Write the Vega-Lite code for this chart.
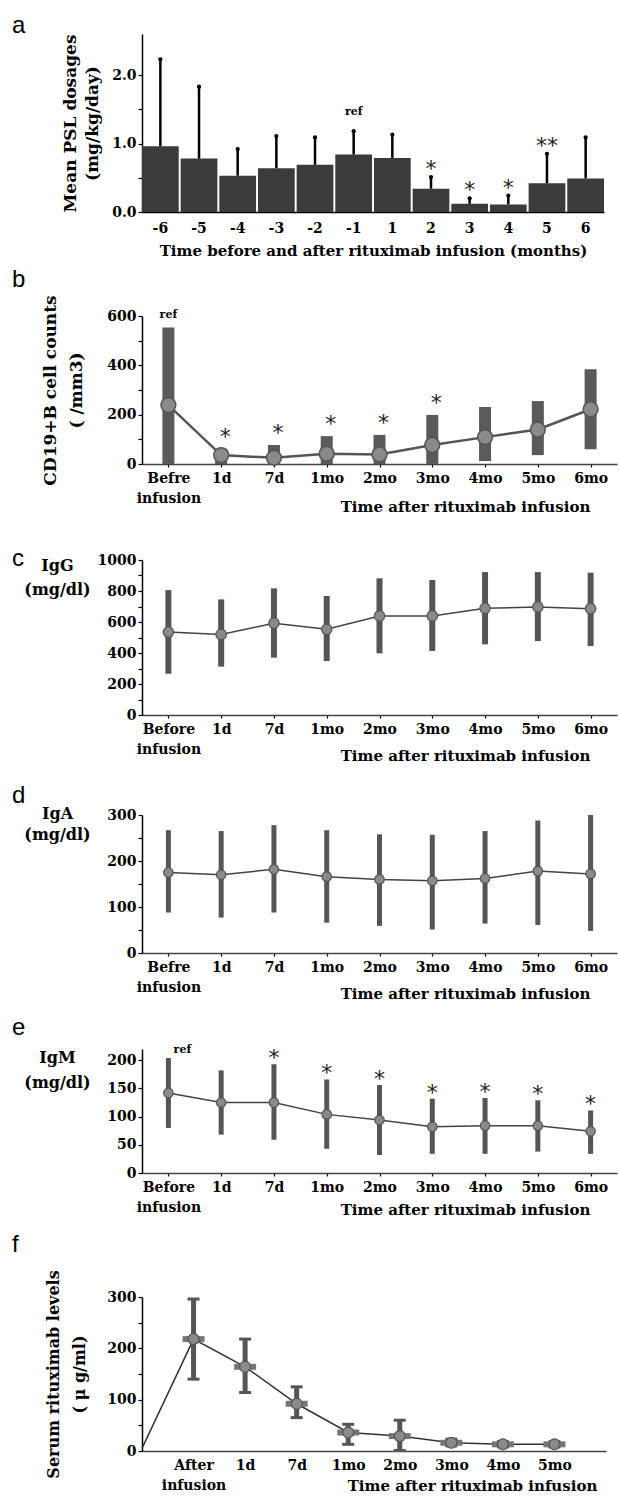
{
  "$schema": "https://vega.github.io/schema/vega-lite/v6.json",
  "padding": {"left": 12, "top": 14, "right": 2, "bottom": 5},
  "background": "white",
  "config": {
    "view": {"stroke": null},
    "axis": {"domainColor": "#000", "domainWidth": 1.5, "tickColor": "#000", "tickWidth": 1.2, "tickSize": 4, "labelFont": "DejaVu Serif", "labelFontWeight": "bold", "labelFontSize": 14, "labelColor": "#000", "labelOverlap": false, "titleFont": "DejaVu Serif", "titleFontWeight": "bold", "titleFontSize": 16, "titleColor": "#000", "grid": false},
    "axisX": {"labelAngle": 0},
    "title": {"font": "Liberation Sans", "fontSize": 24, "fontWeight": "normal", "color": "#000", "anchor": "start", "frame": "group", "offset": 0}
  },
  "spacing": 96,
  "bounds": "flush",
  "vconcat": [
    {
      "width": 462, "height": 178,
      "title": {"text": "a", "dx": -130, "dy": 8},
      "data": {"values": [
        {"month": "-6", "dose": 0.96, "upper": 2.23, "sig": ""},
        {"month": "-5", "dose": 0.78, "upper": 1.83, "sig": ""},
        {"month": "-4", "dose": 0.53, "upper": 0.92, "sig": ""},
        {"month": "-3", "dose": 0.64, "upper": 1.11, "sig": ""},
        {"month": "-2", "dose": 0.69, "upper": 1.09, "sig": ""},
        {"month": "-1", "dose": 0.84, "upper": 1.18, "sig": "ref"},
        {"month": "1", "dose": 0.79, "upper": 1.13, "sig": ""},
        {"month": "2", "dose": 0.34, "upper": 0.51, "sig": "*"},
        {"month": "3", "dose": 0.12, "upper": 0.20, "sig": "*"},
        {"month": "4", "dose": 0.11, "upper": 0.24, "sig": "*"},
        {"month": "5", "dose": 0.42, "upper": 0.85, "sig": "**"},
        {"month": "6", "dose": 0.49, "upper": 1.09, "sig": ""}
      ]},
      "encoding": {
        "x": {"field": "month", "type": "ordinal", "sort": null,
              "scale": {"paddingInner": 0.05, "paddingOuter": 0},
              "axis": {"title": "Time before and after rituximab infusion (months)", "ticks": false, "labelPadding": 9, "titlePadding": 8, "titleFontSize": 15}}
      },
      "layer": [
        {"mark": {"type": "bar", "color": "#3b3b3b"},
         "encoding": {"y": {"field": "dose", "type": "quantitative", "scale": {"domain": [0, 2.5]},
           "axis": {"title": ["Mean PSL dosages", "(mg/kg/day)"], "titleFontSize": 17, "titleLineHeight": 22, "values": [0, 0.5, 1, 1.5, 2], "tickCount": 20, "labelExpr": "datum.value % 1 == 0 ? format(datum.value, '.1f') : ''", "titlePadding": 10}}}},
        {"mark": {"type": "rule", "color": "#000", "strokeWidth": 2.5},
         "encoding": {"y": {"field": "dose", "type": "quantitative"}, "y2": {"field": "upper"}}},
        {"mark": {"type": "point", "filled": true, "color": "#000", "size": 18, "opacity": 1},
         "encoding": {"y": {"field": "upper", "type": "quantitative"}}},
        {"transform": [{"filter": "datum.sig == 'ref'"}],
         "mark": {"type": "text", "font": "DejaVu Serif", "fontWeight": "bold", "fontSize": 11, "dy": -19, "color": "#000"},
         "encoding": {"y": {"field": "upper", "type": "quantitative"}, "text": {"field": "sig"}}},
        {"transform": [{"filter": "indexof(datum.sig, '*') >= 0"}],
         "mark": {"type": "text", "font": "DejaVu Sans", "fontSize": 22, "dy": -8, "color": "#222"},
         "encoding": {"y": {"field": "upper", "type": "quantitative"}, "text": {"field": "sig"}}}
      ]
    },
    {
      "width": 475, "height": 156,
      "title": {"text": "b", "dx": -130, "dy": 1},
      "data": {"values": [
        {"t": "Before", "mean": 239, "lo": 0, "hi": 553, "sig": "ref"},
        {"t": "1d", "mean": 36, "lo": 0, "hi": 62, "sig": "*"},
        {"t": "7d", "mean": 25, "lo": 0, "hi": 77, "sig": "*"},
        {"t": "1mo", "mean": 42, "lo": 0, "hi": 113, "sig": "*"},
        {"t": "2mo", "mean": 39, "lo": 0, "hi": 118, "sig": "*"},
        {"t": "3mo", "mean": 77, "lo": 0, "hi": 199, "sig": "*"},
        {"t": "4mo", "mean": 109, "lo": 12, "hi": 231, "sig": ""},
        {"t": "5mo", "mean": 140, "lo": 36, "hi": 255, "sig": ""},
        {"t": "6mo", "mean": 222, "lo": 60, "hi": 384, "sig": ""}
      ]},
      "encoding": {
        "x": {"field": "t", "type": "ordinal", "sort": null, "scale": {"type": "point", "padding": 0.5},
              "axis": {"title": "Time after rituximab infusion", "titleFontSize": 15, "labelExpr": "datum.value == 'Before' ? ['Befre', 'infusion'] : datum.value", "labelLineHeight": 20, "tickSize": 3, "labelPadding": 4, "domainColor": "#444", "titleX": 323, "titleY": 42, "titleBaseline": "middle", "titleAlign": "center"}}
      },
      "layer": [
        {"mark": {"type": "rule", "color": "#5a5a5a", "strokeWidth": 12},
         "encoding": {"y": {"field": "lo", "type": "quantitative", "scale": {"domain": [0, 600], "range": [156, 8]},
           "axis": {"title": ["CD19+B cell counts", "( /mm3)"], "titleFontSize": 17, "titleLineHeight": 26, "values": [0, 100, 200, 300, 400, 500, 600], "tickCount": 20, "labelExpr": "datum.value % 200 == 0 ? datum.label : ''", "titlePadding": 21}},
           "y2": {"field": "hi"}}},
        {"mark": {"type": "line", "color": "#555", "strokeWidth": 2.5},
         "encoding": {"y": {"field": "mean", "type": "quantitative"}}},
        {"mark": {"type": "point", "filled": true, "size": 220, "color": "#8a8a8a", "stroke": "#555", "strokeWidth": 1.5, "opacity": 1},
         "encoding": {"y": {"field": "mean", "type": "quantitative"}}},
        {"transform": [{"filter": "datum.sig == 'ref'"}],
         "mark": {"type": "text", "font": "DejaVu Serif", "fontWeight": "bold", "fontSize": 11, "dy": -13, "color": "#000"},
         "encoding": {"y": {"field": "hi", "type": "quantitative"}, "text": {"field": "sig"}}},
        {"transform": [{"filter": "indexof(datum.sig, '*') >= 0"}],
         "mark": {"type": "text", "font": "DejaVu Sans", "fontSize": 22, "dy": -12, "dx": 4, "color": "#222"},
         "encoding": {"y": {"field": "hi", "type": "quantitative"}, "text": {"field": "sig"}}}
      ]
    },
    {
      "width": 475, "height": 155,
      "title": {"text": "c", "dx": -130, "dy": 22},
      "data": {"values": [
        {"t": "Before", "mean": 535, "lo": 266, "hi": 806},
        {"t": "1d", "mean": 520, "lo": 312, "hi": 746},
        {"t": "7d", "mean": 592, "lo": 370, "hi": 817},
        {"t": "1mo", "mean": 553, "lo": 348, "hi": 768},
        {"t": "2mo", "mean": 639, "lo": 398, "hi": 882},
        {"t": "3mo", "mean": 639, "lo": 413, "hi": 871},
        {"t": "4mo", "mean": 688, "lo": 456, "hi": 922},
        {"t": "5mo", "mean": 697, "lo": 477, "hi": 922},
        {"t": "6mo", "mean": 686, "lo": 445, "hi": 918}
      ]},
      "encoding": {
        "x": {"field": "t", "type": "ordinal", "sort": null, "scale": {"type": "point", "padding": 0.5},
              "axis": {"title": "Time after rituximab infusion", "titleFontSize": 15, "labelExpr": "datum.value == 'Before' ? ['Before', 'infusion'] : datum.value", "labelLineHeight": 20, "tickSize": 3, "labelPadding": 4, "domainColor": "#444", "titleX": 323, "titleY": 40, "titleBaseline": "middle", "titleAlign": "center"}}
      },
      "layer": [
        {"mark": {"type": "rule", "color": "#555", "strokeWidth": 6},
         "encoding": {"y": {"field": "lo", "type": "quantitative", "scale": {"domain": [0, 1000]},
           "axis": {"title": ["IgG", "(mg/dl)"], "titleAngle": 0, "titleX": -85, "titleY": -3, "titleAlign": "center", "titleBaseline": "top", "titleLineHeight": 24, "titleFontSize": 16, "values": [0, 100, 200, 300, 400, 500, 600, 700, 800, 900, 1000], "tickCount": 20, "labelExpr": "datum.value % 200 == 0 ? format(datum.value, 'd') : ''"}},
           "y2": {"field": "hi"}}},
        {"mark": {"type": "line", "color": "#444", "strokeWidth": 1.5},
         "encoding": {"y": {"field": "mean", "type": "quantitative"}}},
        {"mark": {"type": "point", "filled": true, "size": 110, "color": "#8a8a8a", "stroke": "#555", "strokeWidth": 1.2, "opacity": 1},
         "encoding": {"y": {"field": "mean", "type": "quantitative"}}}
      ]
    },
    {
      "width": 475, "height": 142,
      "title": {"text": "d", "dx": -130, "dy": 7},
      "data": {"values": [
        {"t": "Before", "mean": 175, "lo": 88, "hi": 267},
        {"t": "1d", "mean": 170, "lo": 77, "hi": 265},
        {"t": "7d", "mean": 182, "lo": 88, "hi": 278},
        {"t": "1mo", "mean": 166, "lo": 66, "hi": 267},
        {"t": "2mo", "mean": 160, "lo": 59, "hi": 258},
        {"t": "3mo", "mean": 157, "lo": 51, "hi": 257},
        {"t": "4mo", "mean": 162, "lo": 64, "hi": 265},
        {"t": "5mo", "mean": 178, "lo": 61, "hi": 288},
        {"t": "6mo", "mean": 172, "lo": 48, "hi": 300}
      ]},
      "encoding": {
        "x": {"field": "t", "type": "ordinal", "sort": null, "scale": {"type": "point", "padding": 0.5},
              "axis": {"title": "Time after rituximab infusion", "titleFontSize": 15, "labelExpr": "datum.value == 'Before' ? ['Befre', 'infusion'] : datum.value", "labelLineHeight": 20, "tickSize": 3, "labelPadding": 4, "domainColor": "#444", "titleX": 323, "titleY": 40, "titleBaseline": "middle", "titleAlign": "center"}}
      },
      "layer": [
        {"mark": {"type": "rule", "color": "#555", "strokeWidth": 5},
         "encoding": {"y": {"field": "lo", "type": "quantitative", "scale": {"domain": [0, 300], "range": [142, 4]},
           "axis": {"title": ["IgA", "(mg/dl)"], "titleAngle": 0, "titleX": -85, "titleY": -6, "titleAlign": "center", "titleBaseline": "top", "titleLineHeight": 21, "titleFontSize": 16, "values": [0, 50, 100, 150, 200, 250, 300], "tickCount": 20, "labelExpr": "datum.value % 100 == 0 ? datum.label : ''"}},
           "y2": {"field": "hi"}}},
        {"mark": {"type": "line", "color": "#444", "strokeWidth": 1.5},
         "encoding": {"y": {"field": "mean", "type": "quantitative"}}},
        {"mark": {"type": "point", "filled": true, "size": 90, "color": "#8a8a8a", "stroke": "#555", "strokeWidth": 1.2, "opacity": 1},
         "encoding": {"y": {"field": "mean", "type": "quantitative"}}}
      ]
    },
    {
      "width": 475, "height": 124,
      "title": {"text": "e", "dx": -130, "dy": 0},
      "data": {"values": [
        {"t": "Before", "mean": 142, "lo": 80, "hi": 204, "sig": "ref"},
        {"t": "1d", "mean": 125, "lo": 68, "hi": 182, "sig": ""},
        {"t": "7d", "mean": 125, "lo": 59, "hi": 193, "sig": "*"},
        {"t": "1mo", "mean": 104, "lo": 43, "hi": 166, "sig": "*"},
        {"t": "2mo", "mean": 94, "lo": 32, "hi": 156, "sig": "*"},
        {"t": "3mo", "mean": 82, "lo": 34, "hi": 132, "sig": "*"},
        {"t": "4mo", "mean": 84, "lo": 34, "hi": 133, "sig": "*"},
        {"t": "5mo", "mean": 84, "lo": 38, "hi": 129, "sig": "*"},
        {"t": "6mo", "mean": 74, "lo": 34, "hi": 111, "sig": "*"}
      ]},
      "encoding": {
        "x": {"field": "t", "type": "ordinal", "sort": null, "scale": {"type": "point", "padding": 0.5},
              "axis": {"title": "Time after rituximab infusion", "titleFontSize": 15, "labelExpr": "datum.value == 'Before' ? ['Before', 'infusion'] : datum.value", "labelLineHeight": 20, "tickSize": 3, "labelPadding": 4, "domainColor": "#444", "titleX": 323, "titleY": 36, "titleBaseline": "middle", "titleAlign": "center"}}
      },
      "layer": [
        {"mark": {"type": "rule", "color": "#555", "strokeWidth": 5},
         "encoding": {"y": {"field": "lo", "type": "quantitative", "scale": {"domain": [0, 210]},
           "axis": {"title": ["IgM", "(mg/dl)"], "titleAngle": 0, "titleX": -85, "titleY": 0, "titleAlign": "center", "titleBaseline": "top", "titleLineHeight": 25, "titleFontSize": 16, "values": [0, 50, 100, 150, 200], "tickCount": 20}},
           "y2": {"field": "hi"}}},
        {"mark": {"type": "line", "color": "#444", "strokeWidth": 1.5},
         "encoding": {"y": {"field": "mean", "type": "quantitative"}}},
        {"mark": {"type": "point", "filled": true, "size": 90, "color": "#8a8a8a", "stroke": "#555", "strokeWidth": 1.2, "opacity": 1},
         "encoding": {"y": {"field": "mean", "type": "quantitative"}}},
        {"transform": [{"filter": "datum.sig == 'ref'"}],
         "mark": {"type": "text", "font": "DejaVu Serif", "fontWeight": "bold", "fontSize": 11, "dy": -8, "dx": 14, "color": "#000"},
         "encoding": {"y": {"field": "hi", "type": "quantitative"}, "text": {"field": "sig"}}},
        {"transform": [{"filter": "indexof(datum.sig, '*') >= 0"}],
         "mark": {"type": "text", "font": "DejaVu Sans", "fontSize": 22, "dy": -6, "color": "#222"},
         "encoding": {"y": {"field": "hi", "type": "quantitative"}, "text": {"field": "sig"}}}
      ]
    },
    {
      "width": 464, "height": 182,
      "title": {"text": "f", "dx": -130, "dy": -8},
      "data": {"values": [
        {"t": "pre", "mean": 5},
        {"t": "After", "mean": 218, "lo": 140, "hi": 296},
        {"t": "1d", "mean": 164, "lo": 114, "hi": 218},
        {"t": "7d", "mean": 92, "lo": 65, "hi": 125},
        {"t": "1mo", "mean": 36, "lo": 13, "hi": 52},
        {"t": "2mo", "mean": 29, "lo": 1, "hi": 60},
        {"t": "3mo", "mean": 16, "lo": 10, "hi": 23},
        {"t": "4mo", "mean": 13, "lo": 8, "hi": 18},
        {"t": "5mo", "mean": 13, "lo": 8, "hi": 18}
      ]},
      "encoding": {
        "x": {"field": "t", "type": "ordinal", "sort": null,
              "scale": {"type": "point", "padding": 0, "domain": ["pre", "After", "1d", "7d", "1mo", "2mo", "3mo", "4mo", "5mo", "end"]},
              "axis": {"title": "Time after rituximab infusion", "titleFontSize": 15, "labelExpr": "datum.value == 'After' ? ['After', 'infusion'] : (datum.value == 'pre' || datum.value == 'end' ? '' : datum.value)", "labelLineHeight": 20, "ticks": false, "labelPadding": 7, "domainColor": "#444", "titleX": 330, "titleY": 34, "titleBaseline": "middle", "titleAlign": "center"}}
      },
      "layer": [
        {"mark": {"type": "rule", "color": "#555", "strokeWidth": 5},
         "encoding": {"y": {"field": "lo", "type": "quantitative", "scale": {"domain": [0, 300], "range": [182, 28]},
           "axis": {"title": ["Serum rituximab levels", "( μ g/ml)"], "titleFontSize": 16, "titleLineHeight": 26, "values": [0, 50, 100, 150, 200, 250, 300], "tickCount": 20, "labelExpr": "datum.value % 100 == 0 ? datum.label : ''", "titlePadding": 19}},
           "y2": {"field": "hi"}}},
        {"mark": {"type": "tick", "color": "#555", "thickness": 3, "size": 12, "opacity": 1, "orient": "horizontal"},
         "encoding": {"y": {"field": "lo", "type": "quantitative"}}},
        {"mark": {"type": "tick", "color": "#555", "thickness": 3, "size": 12, "opacity": 1, "orient": "horizontal"},
         "encoding": {"y": {"field": "hi", "type": "quantitative"}}},
        {"mark": {"type": "line", "color": "#333", "strokeWidth": 1.5},
         "encoding": {"y": {"field": "mean", "type": "quantitative"}}},
        {"transform": [{"filter": "datum.t != 'pre'"}],
         "mark": {"type": "tick", "color": "#777", "thickness": 6, "size": 22, "opacity": 1, "orient": "horizontal"},
         "encoding": {"y": {"field": "mean", "type": "quantitative"}}},
        {"transform": [{"filter": "datum.t != 'pre'"}],
         "mark": {"type": "point", "filled": true, "size": 120, "color": "#8a8a8a", "stroke": "#555", "strokeWidth": 1.2, "opacity": 1},
         "encoding": {"y": {"field": "mean", "type": "quantitative"}}}
      ]
    }
  ]
}
